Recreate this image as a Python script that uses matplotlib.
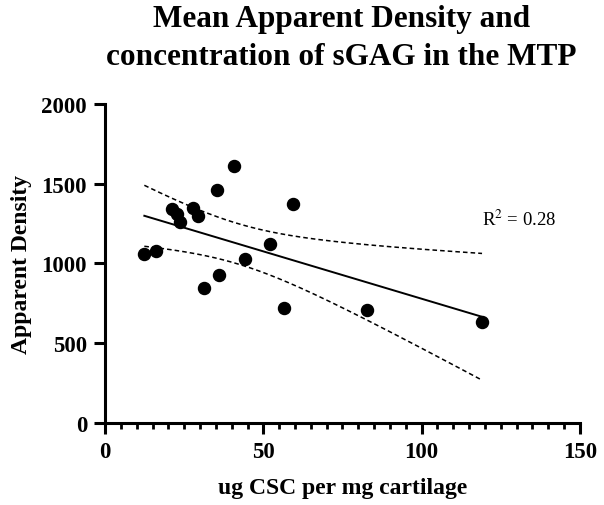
import numpy as np
import matplotlib
matplotlib.use("Agg")
import matplotlib.pyplot as plt
from matplotlib.ticker import MultipleLocator

plt.rcParams['font.family'] = ['Liberation Serif', 'DejaVu Serif']
plt.rcParams['mathtext.fontset'] = 'stix'

# ug CSC per mg cartilage vs apparent density
csc = [12.4, 16.0, 21.1, 22.8, 23.7, 27.8, 29.4, 31.3, 35.2, 36.1,
       40.7, 44.2, 52.1, 56.6, 59.3, 82.8, 119.1]
density = [1060, 1075, 1340, 1310, 1260, 1345, 1295, 845, 1460, 925,
           1610, 1025, 1120, 720, 1375, 705, 635]
r2_label = r"R$^{2}$ = 0.28"

x = np.array(csc)
y = np.array(density)

# linear fit and 95% confidence band of the mean
slope, intercept = np.polyfit(x, y, 1)
n = len(x)
resid = y - (slope * x + intercept)
s = np.sqrt(np.sum(resid ** 2) / (n - 2))
t_val = 2.131  # t(0.975, 15)
xs = np.linspace(x.min(), x.max(), 200)
ys = slope * xs + intercept
se = s * np.sqrt(1 / n + (xs - x.mean()) ** 2 / np.sum((x - x.mean()) ** 2))

fig = plt.figure(figsize=(6.04, 5.06), dpi=100)
ax = fig.add_axes([0.174, 0.162, 0.786, 0.631])

ax.plot(xs, ys, '-', color='black', lw=1.4)
ax.plot(xs, ys + t_val * se, '--', color='black', lw=1.1, dashes=(3, 2))
ax.plot(xs, ys - t_val * se, '--', color='black', lw=1.1, dashes=(3, 2))
ax.scatter(x, y, s=75, color='black', zorder=3, clip_on=False)

ax.text(119, 1240, r2_label, fontsize=13.5)

ax.set_xlim(0, 150)
ax.set_ylim(0, 2000)
ax.xaxis.set_major_locator(MultipleLocator(50))
ax.xaxis.set_minor_locator(MultipleLocator(5))
ax.yaxis.set_major_locator(MultipleLocator(500))

for side in ['top', 'right']:
    ax.spines[side].set_visible(False)
for side in ['left', 'bottom']:
    ax.spines[side].set_linewidth(2.2)

ax.tick_params(which='major', length=8, width=2.2, labelsize=16.5, pad=5)
ax.tick_params(which='minor', length=4, width=2.0)
for lbl in ax.get_xticklabels() + ax.get_yticklabels():
    lbl.set_fontweight('bold')

ax.set_xlabel('ug CSC per mg cartilage', fontsize=17, fontweight='bold', labelpad=11)
ax.set_ylabel('Apparent Density', fontsize=17, fontweight='bold', labelpad=7)

fig.suptitle('Mean Apparent Density and\nconcentration of sGAG in the MTP',
             x=0.565, y=0.99, fontsize=22.5, fontweight='bold', linespacing=1.4)

fig.savefig('out.png', dpi=100)
